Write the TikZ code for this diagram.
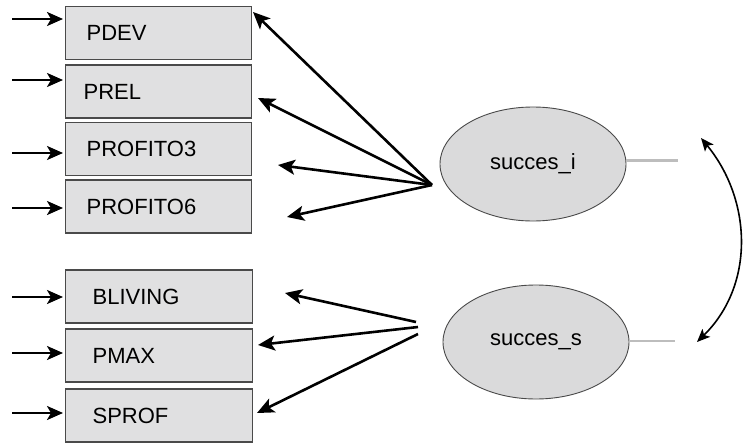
\documentclass[tikz,border=0pt]{standalone}
\usepackage{fontspec}
\setmainfont{Liberation Sans}
\usetikzlibrary{shapes.geometric,arrows.meta,calc}
\definecolor{boxfill}{HTML}{E0E0E1}
\definecolor{ellfill}{HTML}{DADADB}
\definecolor{edge}{HTML}{4A4A4A}
\definecolor{stub}{HTML}{BDBDBD}
\begin{document}
\begin{tikzpicture}[x=1pt,y=-1pt,
  obs/.style={draw=edge, line width=1.3pt, fill=boxfill, minimum height=53pt,
    anchor=west, align=left, inner ysep=0pt, font=\fontsize{22}{24}\selectfont},
  obsA/.style={obs, inner xsep=21pt, text width=144pt},
  obsB/.style={obs, inner xsep=27pt, text width=133pt},
  latent/.style={ellipse, draw=edge, line width=0.9pt, fill=ellfill,
    minimum width=186pt, minimum height=114pt, inner sep=0pt,
    font=\fontsize{22}{24}\selectfont},
  errarrow/.style={line width=2.3pt, shorten >=2pt,
    -{Stealth[length=16pt,width=14pt,inset=4pt]}},
  load/.style={line width=2.6pt, -{Stealth[length=17pt,width=15pt,inset=4pt]}},
  covar/.style={line width=1.6pt,
    {Stealth[length=13pt,width=11pt,inset=3pt]}-{Stealth[length=13pt,width=11pt,inset=3pt]}},
  stubline/.style={draw=stub}
]
\useasboundingbox (0,0) rectangle (745,444);

% observed indicators
\node[obsA] (pdev)  at (65,33)    {PDEV};
\node[obsA, inner xsep=18pt, text width=150pt] (prel) at (65,91.5) {PREL};
\node[obsA] (prof3) at (65,149)   {PROFITO3};
\node[obsA] (prof6) at (65,206.5) {PROFITO6};
\node[obsB] (bliv)  at (65,296.5) {BLIVING};
\node[obsB] (pmax)  at (65,355.5) {PMAX};
\node[obsB] (sprof) at (65,415.5) {SPROF};

% latent factors
\node[latent] (si) at (533,164) {succes\_i};
\node[latent] (ss) at (536,342) {succes\_s};

% error terms on the indicators
\coordinate (e1) at (12,19);
\coordinate (e2) at (12,80);
\coordinate (e3) at (12,153);
\coordinate (e4) at (12,208);
\coordinate (e5) at (12,297);
\coordinate (e6) at (12,353);
\coordinate (e7) at (12,413);
\foreach \e/\n in {e1/pdev,e2/prel,e3/prof3,e4/prof6,e5/bliv,e6/pmax,e7/sprof}
  \draw[errarrow] (\e) -- (\e -| \n.west);

% loadings of succes_i
\coordinate (hi) at (432,185);
\coordinate (t1) at (253,12);
\coordinate (t2) at (258,98);
\coordinate (t3) at (278,165);
\coordinate (t4) at (287,217);
\foreach \t in {t1,t2,t3,t4}
  \draw[load] (hi) -- (\t);

% loadings of succes_s
\coordinate (h5) at (416,322);
\coordinate (h6) at (418,327);
\coordinate (h7) at (418,334);
\coordinate (t5) at (285,293);
\coordinate (t6) at (258,345);
\coordinate (t7) at (257,413);
\draw[load] (h5) -- (t5);
\draw[load] (h6) -- (t6);
\draw[load] (h7) -- (t7);

% residual stubs of the factors
\draw[stubline, line width=3pt] ([yshift=4pt]si.east) -- ++(52,0);
\draw[stubline, line width=2pt] ([yshift=1pt]ss.east) -- ++(46,0);

% factor covariance
\coordinate (c1) at (701,138);
\coordinate (c2) at (697,342);
\draw[covar] (c1) .. controls (752,200) and (755,285) .. (c2);
\end{tikzpicture}
\end{document}
